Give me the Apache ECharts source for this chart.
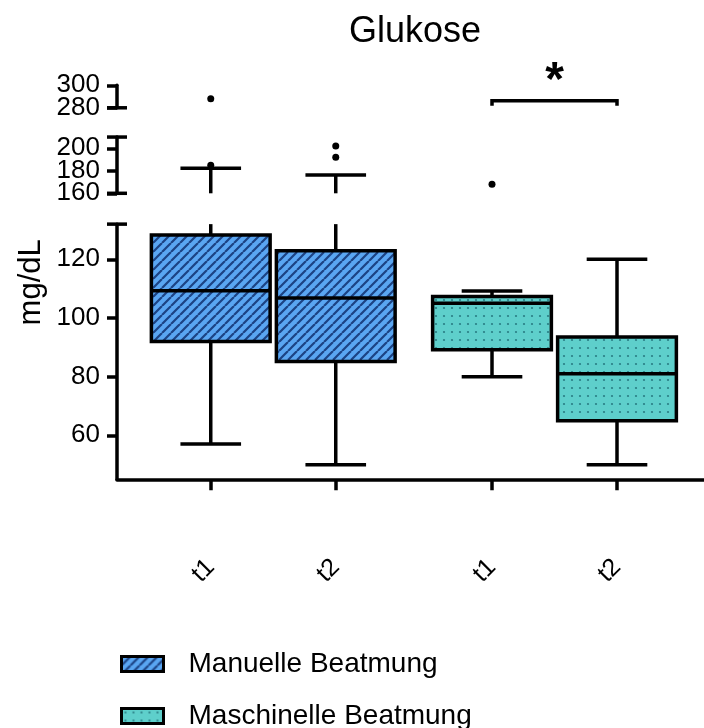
<!DOCTYPE html>
<html>
<head>
<meta charset="utf-8">
<script src="https://cdn.jsdelivr.net/npm/echarts@6/dist/echarts.min.js"></script>
<style>
  html, body { margin: 0; padding: 0; background: #fff; }
  #chart { width: 704px; height: 728px; }
</style>
</head>
<body>
<div id="chart"></div>
<script>
// ---- data ----
const groupNames = ['Manuelle Beatmung', 'Maschinelle Beatmung'];
const timePoints = ['t1', 't2'];
// box summaries per time point: [min, Q1, median, Q3, max] in mg/dL
const manuelleBoxes = [
  [57, 92, 109.3, 128.3, 182.3],
  [50, 85.2, 106.8, 122.9, 176.3]
];
const maschinelleBoxes = [
  [80, 89.2, 105, 107.3, 109.2],
  [50, 65, 81, 93.5, 120]
];
// outliers: [time point index, value]
const manuelleOutliers = [[0, 288], [0, 185], [1, 202], [1, 192]];
const maschinelleOutliers = [[0, 168]];
// broken y axis: segments from top to bottom and their tick values
const segTop = [280, 300];
const segMid = [160, 210];
const segLow = [45, 132];
const ticksTop = [280, 300];
const ticksMid = [160, 180, 200];
const ticksLow = [60, 80, 100, 120];
// significance bracket between Maschinelle t1 and t2
const significance = [{ group: 1, from: 0, to: 1, label: '*' }];

// ---- layout ----
const FONT = '"Liberation Sans", Arial, Helvetica, sans-serif';
const NSLOTS = 20;                       // x positions on the category axis
const groupSlots = [[3, 7], [12, 16]];   // slot of each box
const PLOT_LEFT = 117, PLOT_WIDTH = 593.75;
const AXIS_Y = 479.3;                    // x axis line
const LOW_SCALE = 2.933, HIGH_SCALE = 1.125; // px per mg/dL
const MID_BOTTOM = 193.3, TOP_BOTTOM = 107.8;
const BRACKET_LEVEL = 286.3;
const LINE_W = 3.5;

const segments = [segTop, segMid, segLow];
const segTicks = [ticksTop, ticksMid, ticksLow];
const capSymbols = [['rect', 'none'], ['rect', 'rect'], ['none', 'rect']];
const segBottoms = [TOP_BOTTOM, MID_BOTTOM, AXIS_Y];
const segScales = [HIGH_SCALE, HIGH_SCALE, LOW_SCALE];

const slotLabels = Array.from({ length: NSLOTS }, () => '');
groupSlots.forEach(slots => slots.forEach((s, t) => { slotLabels[s] = timePoints[t]; }));

// ---- fill patterns ----
function stripePattern() {
  const s = 9;
  const c = document.createElement('canvas');
  c.width = s; c.height = s;
  const g = c.getContext('2d');
  g.fillStyle = '#5aa6f2';
  g.fillRect(0, 0, s, s);
  g.strokeStyle = '#1c4384';
  g.lineWidth = 2.2;
  g.beginPath();
  [-s, 0, s].forEach(o => { g.moveTo(o, s); g.lineTo(o + s, 0); });
  g.stroke();
  return c;
}
function dotPattern() {
  const s = 8;
  const c = document.createElement('canvas');
  c.width = s; c.height = s;
  const g = c.getContext('2d');
  g.fillStyle = '#5ecfcb';
  g.fillRect(0, 0, s, s);
  g.fillStyle = '#2a7d84';
  g.beginPath();
  g.arc(4, 4, 1.1, 0, Math.PI * 2);
  g.fill();
  return c;
}
const fills = [
  { image: stripePattern(), repeat: 'repeat' },
  { image: dotPattern(), repeat: 'repeat' }
];

// ---- box renderer, clipped to the segment of its grid ----
function clipSeg(a, b, top, bottom) {
  let lo = Math.max(Math.min(a, b), top);
  let hi = Math.min(Math.max(a, b), bottom);
  return lo < hi ? [lo, hi] : null;
}
function makeBoxRenderer(fill) {
  return function (params, api) {
    const cs = params.coordSys;
    const top = cs.y, bottom = cs.y + cs.height;
    const slot = api.value(0);
    const y = v => api.coord([slot, v])[1];
    const cx = api.coord([slot, api.value(3)])[0];
    const slotW = api.coord([slot + 1, api.value(3)])[0] - cx;
    const halfBox = slotW * 1.9, halfCap = slotW * 0.97;
    const yMin = y(api.value(1)), yQ1 = y(api.value(2)), yMed = y(api.value(3)),
          yQ3 = y(api.value(4)), yMax = y(api.value(5));
    const line = { stroke: '#000', lineWidth: LINE_W };
    const inside = v => v >= top - 0.5 && v <= bottom + 0.5;
    const children = [];
    [[yQ3, yMax], [yQ1, yMin]].forEach(([a, b]) => {
      const s = clipSeg(a, b, top, bottom);
      if (s) children.push({ type: 'line', shape: { x1: cx, y1: s[0], x2: cx, y2: s[1] }, style: line });
    });
    [yMax, yMin].forEach(v => {
      if (inside(v)) children.push({ type: 'line', shape: { x1: cx - halfCap, y1: v, x2: cx + halfCap, y2: v }, style: line });
    });
    const box = clipSeg(yQ3, yQ1, top, bottom);
    if (box) {
      children.push({
        type: 'rect',
        shape: { x: cx - halfBox, y: box[0], width: 2 * halfBox, height: box[1] - box[0] },
        style: { fill: fill, stroke: '#000', lineWidth: LINE_W }
      });
    }
    if (inside(yMed)) {
      children.push({ type: 'line', shape: { x1: cx - halfBox, y1: yMed, x2: cx + halfBox, y2: yMed }, style: line });
    }
    return { type: 'group', children: children };
  };
}

// ---- grids and axes ----
// Each segment gets two stacked grids with the same rectangle: the first carries the
// axis line, the data and every other tick; the second only the remaining ticks, so
// closely spaced labels never collide within a single axis.
const segRects = segments.map((seg, gi) => {
  const h = (seg[1] - seg[0]) * segScales[gi];
  return { top: segBottoms[gi] - h, height: h };
});
const grids = [], xAxes = [], yAxes = [];
function addGrid(rect) {
  grids.push({ left: PLOT_LEFT, width: PLOT_WIDTH, top: rect.top, height: rect.height, outerBoundsMode: 'none' });
  return grids.length - 1;
}
function addXAxis(gridIndex, visible) {
  xAxes.push({
    type: 'category', gridIndex: gridIndex, data: slotLabels, boundaryGap: false, show: visible,
    axisLine: { show: true, onZero: false, lineStyle: { color: '#000', width: LINE_W } },
    axisTick: { show: true, length: 11, interval: (i, v) => v !== '', lineStyle: { color: '#000', width: LINE_W } },
    axisLabel: { show: true, interval: 0, rotate: 45, margin: 84, fontSize: 25, color: '#000', fontFamily: FONT },
    splitLine: { show: false }
  });
}
function addYAxis(gridIndex, seg, ticks, withLine, caps) {
  yAxes.push({
    type: 'value', gridIndex: gridIndex, min: seg[0], max: seg[1], position: 'left',
    axisLine: { show: withLine, onZero: false, symbol: caps, symbolSize: [20, LINE_W],
                lineStyle: { color: '#000', width: LINE_W } },
    axisTick: { show: true, length: 10, customValues: ticks, lineStyle: { color: '#000', width: LINE_W } },
    axisLabel: { show: true, customValues: ticks, margin: 17, fontSize: 26, color: '#000', fontFamily: FONT,
                 showMinLabel: true, showMaxLabel: true, hideOverlap: false },
    splitLine: { show: false }
  });
}
const dataGrid = [];
segments.forEach((seg, gi) => {
  const ticks = segTicks[gi];
  const g = addGrid(segRects[gi]);
  dataGrid.push(g);
  addXAxis(g, gi === 2);
  addYAxis(g, seg, ticks.filter((v, i) => i % 2 === 0), true, capSymbols[gi]);
  const odd = ticks.filter((v, i) => i % 2 === 1);
  if (odd.length) {
    const g2 = addGrid(segRects[gi]);
    addXAxis(g2, false);
    addYAxis(g2, seg, odd, false, ['none', 'none']);
  }
});
// full-height grid carrying the shared axis title
const nameGrid = addGrid({ top: segRects[0].top, height: AXIS_Y - segRects[0].top });
addXAxis(nameGrid, false);
yAxes.push({
  type: 'value', gridIndex: nameGrid, min: 0, max: 1, position: 'left',
  name: 'mg/dL', nameLocation: 'middle', nameRotate: 90, nameGap: 70,
  nameTextStyle: { fontSize: 31, color: '#000', fontFamily: FONT },
  axisLine: { show: false }, axisTick: { show: false }, axisLabel: { show: false }, splitLine: { show: false }
});

// ---- series ----
const boxData = [manuelleBoxes, maschinelleBoxes];
const outlierData = [manuelleOutliers, maschinelleOutliers];
const series = [];
dataGrid.forEach(gi => {
  groupNames.forEach((name, g) => {
    series.push({
      type: 'custom', name: name, xAxisIndex: gi, yAxisIndex: gi, silent: true,
      itemStyle: { color: fills[g], borderColor: '#000', borderWidth: 3 },
      renderItem: makeBoxRenderer(fills[g]),
      data: boxData[g].map((b, t) => [groupSlots[g][t]].concat(b))
    });
    series.push({
      type: 'scatter', name: name, xAxisIndex: gi, yAxisIndex: gi, clip: true, silent: true,
      symbol: 'circle', symbolSize: 7, itemStyle: { color: '#000', opacity: 1 },
      data: outlierData[g].map(([t, v]) => [groupSlots[g][t], v])
    });
  });
});
series.push({
  type: 'custom', xAxisIndex: dataGrid[0], yAxisIndex: dataGrid[0], silent: true,
  data: significance.map(s => [groupSlots[s.group][s.from], groupSlots[s.group][s.to]]),
  renderItem: function (params, api) {
    const x1 = api.coord([api.value(0), BRACKET_LEVEL])[0];
    const x2 = api.coord([api.value(1), BRACKET_LEVEL])[0];
    const yb = api.coord([api.value(0), BRACKET_LEVEL])[1];
    return {
      type: 'group',
      children: [
        { type: 'polyline', shape: { points: [[x1, yb + 5], [x1, yb], [x2, yb], [x2, yb + 5]] },
          style: { stroke: '#000', lineWidth: LINE_W, fill: null } },
        { type: 'text', x: (x1 + x2) / 2, y: yb - 19,
          style: { text: significance[params.dataIndex].label, fontSize: 48, fontWeight: 'bold',
                   fontFamily: FONT, fill: '#000', align: 'center', verticalAlign: 'middle' } }
      ]
    };
  }
});

const chart = echarts.init(document.getElementById('chart'), null, { renderer: 'canvas' });
chart.setOption({
  animation: false,
  backgroundColor: '#fff',
  textStyle: { fontFamily: FONT },
  title: {
    text: 'Glukose', left: 415, top: 14, textAlign: 'center', padding: 0,
    textStyle: { fontSize: 36, fontWeight: 'normal', color: '#000', fontFamily: FONT }
  },
  legend: {
    orient: 'vertical', left: 120, top: 649, height: 100, padding: 0,
    itemWidth: 42, itemHeight: 15, itemGap: 22, icon: 'rect',
    textStyle: { fontSize: 28, color: '#000', lineHeight: 30, fontFamily: FONT, padding: [0, 0, 0, 20] },
    data: groupNames.map((n, g) => ({
      name: n, icon: 'rect',
      itemStyle: { color: fills[g], borderColor: '#000', borderWidth: 3 }
    }))
  },
  grid: grids,
  xAxis: xAxes,
  yAxis: yAxes,
  series: series
});
</script>
</body>
</html>
